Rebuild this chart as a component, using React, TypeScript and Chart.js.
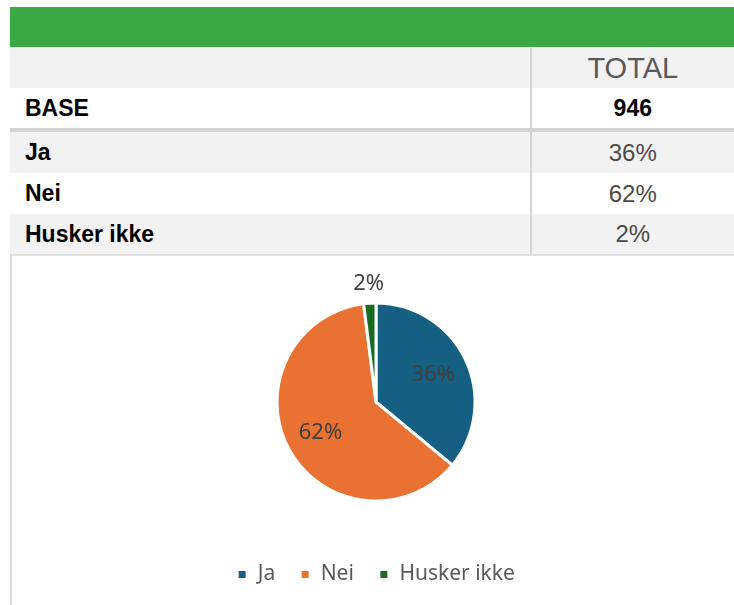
import React, { useEffect, useRef } from "react";
import { Chart, registerables } from "chart.js";

Chart.register(...registerables);

const categories = ["Ja", "Nei", "Husker ikke"];
const values = [36, 62, 2];
const colors = ["#156082", "#E97132", "#196B24"];
const baseLabel = "BASE";
const baseValue = "946";
const columnHeader = "TOTAL";
const percentLabels = ["36%", "62%", "2%"];

const labelPlugin = {
  id: "sliceLabels",
  afterDatasetsDraw(chart: any) {
    const ctx = chart.ctx;
    const meta = chart.getDatasetMeta(0);
    ctx.save();
    ctx.font = '22px "Noto Sans", "Liberation Sans", sans-serif';
    ctx.fillStyle = "#404040";
    ctx.textAlign = "center";
    ctx.textBaseline = "middle";
    meta.data.forEach((arc: any, i: number) => {
      const { x, y, startAngle, endAngle, outerRadius } = arc.getProps(
        ["x", "y", "startAngle", "endAngle", "outerRadius"],
        true
      );
      const mid = (startAngle + endAngle) / 2;
      const v = values[i];
      const dist = v < 5 ? outerRadius + 19 : outerRadius * 0.64;
      ctx.fillText(
        percentLabels[i],
        x + Math.cos(mid) * dist,
        y + Math.sin(mid) * dist
      );
    });
    ctx.restore();
  },
};

function PieChart() {
  const ref = useRef<HTMLCanvasElement>(null);
  useEffect(() => {
    if (!ref.current) return;
    const chart = new Chart(ref.current, {
      type: "pie",
      data: {
        labels: categories,
        datasets: [
          {
            data: values,
            backgroundColor: colors,
            borderColor: "#ffffff",
            borderWidth: 3,
            radius: 99,
          } as any,
        ],
      },
      options: {
        animation: false,
        responsive: false,
        maintainAspectRatio: false,
        layout: { padding: { top: 10, left: 6, right: 0, bottom: 10 } },
        plugins: {
          tooltip: { enabled: false },
          legend: {
            position: "bottom",
            labels: {
              boxWidth: 10,
              boxHeight: 10,
              padding: 25,
              color: "#595959",
              font: { size: 21, family: '"Noto Sans", "Liberation Sans", sans-serif' },
            },
          },
        },
      },
      plugins: [labelPlugin],
    });
    return () => chart.destroy();
  }, []);
  return <canvas ref={ref} width={722} height={350} style={{ display: "block" }} />;
}

const font = '"Liberation Sans", Arial, sans-serif';

function Row({
  label,
  value,
  bg,
  bold,
  height,
  valueStyle,
}: {
  label: string;
  value: string;
  bg: string;
  bold?: boolean;
  height: number;
  valueStyle?: React.CSSProperties;
}) {
  return (
    <div style={{ display: "flex", height, background: bg }}>
      <div
        style={{
          width: 521,
          boxSizing: "border-box",
          paddingLeft: 15,
          display: "flex",
          alignItems: "center",
          fontWeight: 700,
          fontSize: 23,
          color: "#000",
        }}
      >
        {label}
      </div>
      <div
        style={{
          width: 203,
          borderLeft: "2px solid #d4d4d4",
          display: "flex",
          alignItems: "center",
          justifyContent: "center",
          fontSize: 24,
          fontWeight: bold ? 700 : 400,
          color: bold ? "#000" : "#4a4a4a",
          ...valueStyle,
        }}
      >
        {value}
      </div>
    </div>
  );
}

export default function App() {
  return (
    <div
      style={{
        position: "absolute",
        left: 0,
        top: 0,
        width: 734,
        height: 605,
        background: "#fff",
        fontFamily: font,
        overflow: "hidden",
      }}
    >
      <div style={{ position: "absolute", left: 10, top: 7, width: 724, height: 40, background: "#3AA845" }} />
      <div style={{ position: "absolute", left: 10, top: 47, width: 724 }}>
        <Row
          label=""
          value={columnHeader}
          bg="#f2f2f2"
          height={41}
          valueStyle={{ fontSize: 29, color: "#595959", paddingTop: 2 }}
        />
        <Row label={baseLabel} value={baseValue} bg="#ffffff" bold height={40} valueStyle={{ fontSize: 23 }} />
        <div style={{ height: 4, background: "#d4d4d4" }} />
        {categories.map((c, i) => (
          <Row
            key={c}
            label={c}
            value={percentLabels[i]}
            bg={i % 2 === 0 ? "#f2f2f2" : "#ffffff"}
            height={i === 2 ? 40 : 41}
          />
        ))}
        <div style={{ height: 2, background: "#e0e0e0" }} />
      </div>
      <div
        style={{
          position: "absolute",
          left: 10,
          top: 255,
          width: 724,
          height: 350,
          borderLeft: "2px solid #d9d9d9",
          boxSizing: "border-box",
        }}
      >
        <PieChart />
      </div>
    </div>
  );
}
